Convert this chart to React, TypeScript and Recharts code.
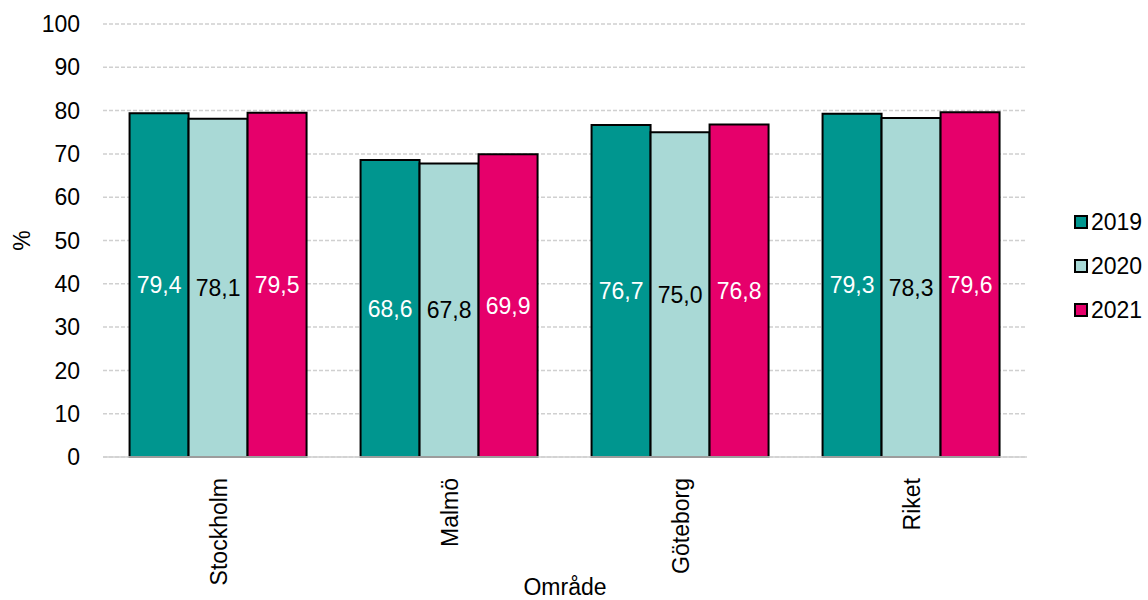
import React from 'react';
import { BarChart, Bar, XAxis, YAxis, CartesianGrid, LabelList } from 'recharts';

const categories = ['Stockholm', 'Malmö', 'Göteborg', 'Riket'];
const values2019 = [79.4, 68.6, 76.7, 79.3];
const values2020 = [78.1, 67.8, 75.0, 78.3];
const values2021 = [79.5, 69.9, 76.8, 79.6];
const yTicks = [0, 10, 20, 30, 40, 50, 60, 70, 80, 90, 100];
const seriesNames = ['2019', '2020', '2021'];
const colors = ['#00968F', '#A9D9D6', '#E6006B'];
const labelColors = ['#ffffff', '#000000', '#ffffff'];

const data = categories.map((c, i) => ({
  name: c,
  '2019': values2019[i],
  '2020': values2020[i],
  '2021': values2021[i],
}));

const FONT = '"Liberation Sans", Arial, sans-serif';
const fmt = (v: any) => Number(v).toFixed(1).replace('.', ',');

const XTick = (props: any) => {
  const { x, y, payload } = props;
  return (
    <text
      transform={`translate(${x},${y + 13}) rotate(-90)`}
      textAnchor="end"
      dominantBaseline="central"
      fontSize={23}
      fontFamily={FONT}
      fill="#000"
    >
      {payload.value}
    </text>
  );
};

const LegendBox = () => (
  <div style={{ position: 'absolute', left: 1074, top: 200, fontFamily: FONT, fontSize: 23, color: '#000' }}>
    {seriesNames.map((s, i) => (
      <div key={s} style={{ display: 'flex', alignItems: 'center', height: 44 }}>
        <div
          style={{
            width: 10,
            height: 10,
            background: colors[i],
            border: '2px solid #000',
            marginRight: 3,
          }}
        />
        <span>{s}</span>
      </div>
    ))}
  </div>
);

export default function App() {
  return (
    <div style={{ position: 'absolute', left: 0, top: 0, width: 1148, height: 600, background: '#fff' }}>
      <BarChart
        width={1148}
        height={600}
        data={data}
        margin={{ top: 24, right: 121, bottom: 0, left: 0 }}
        barCategoryGap="11.5%"
        barGap={0}
      >
        <CartesianGrid vertical={false} stroke="#d0d0d0" strokeDasharray="4 2" strokeWidth={1.5} />
        <XAxis
          dataKey="name"
          height={143}
          tickLine={false}
          axisLine={{ stroke: '#d0d0d0', strokeWidth: 1.5 }}
          tick={<XTick />}
          interval={0}
          label={{
            content: (p: any) => {
              const vb = p.viewBox;
              return (
                <text
                  x={vb.x + vb.width / 2}
                  y={587}
                  textAnchor="middle"
                  dominantBaseline="central"
                  fontSize={23}
                  fontFamily={FONT}
                  fill="#000"
                >
                  Område
                </text>
              );
            },
          }}
        />
        <YAxis
          width={103}
          domain={[0, 100]}
          ticks={yTicks}
          tickLine={false}
          axisLine={false}
          tickSize={0}
          tickMargin={23}
          tick={{ fontSize: 23, fontFamily: FONT, fill: '#000' }}
          label={{
            content: (p: any) => {
              const vb = p.viewBox;
              const cy = vb.y + vb.height / 2;
              return (
                <text
                  x={22}
                  y={cy}
                  transform={`rotate(-90, 22, ${cy})`}
                  textAnchor="middle"
                  dominantBaseline="central"
                  fontSize={23}
                  fontFamily={FONT}
                  fill="#000"
                >
                  %
                </text>
              );
            },
          }}
        />
        {seriesNames.map((s, i) => (
          <Bar key={s} dataKey={s} fill={colors[i]} stroke="#000" strokeWidth={2} isAnimationActive={false}>
            <LabelList
              dataKey={s}
              position="center"
              formatter={fmt}
              fill={labelColors[i]}
              fontSize={23}
              fontFamily={FONT}
            />
          </Bar>
        ))}
      </BarChart>
      <LegendBox />
    </div>
  );
}
